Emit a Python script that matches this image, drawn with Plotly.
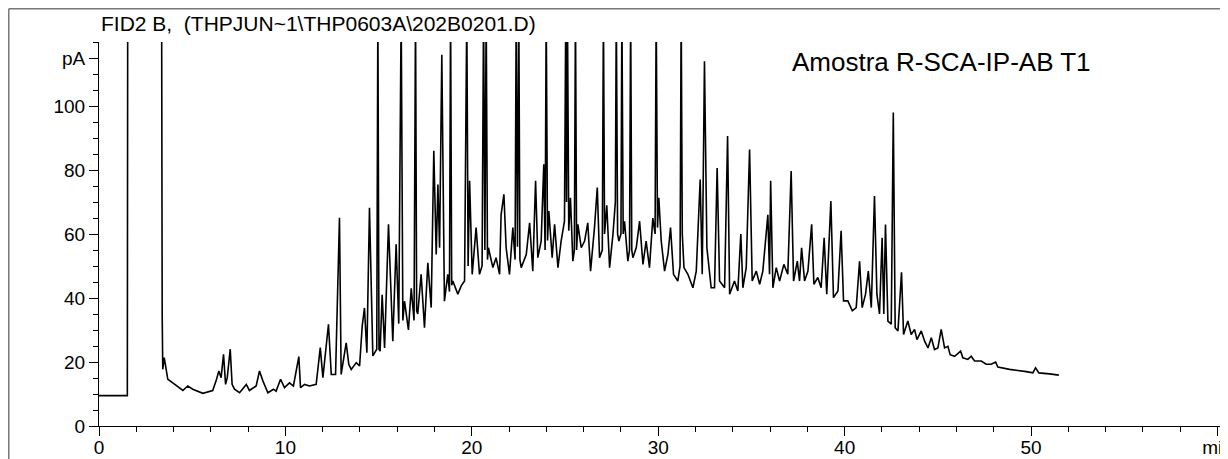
import plotly.graph_objects as go

# FID2 B signal (retention time in min, signal in pA).
# Peaks that run off the top of the chart are given 130 pA and get clipped by the axis.
rt_early = [0.0, 1.52, 1.54, 3.36, 3.39, 3.42, 3.50, 3.69, 3.96, 4.50, 4.76, 5.03, 5.57,
            6.10, 6.28, 6.43, 6.55, 6.68, 6.79, 6.88, 7.04, 7.14, 7.27, 7.54, 7.90, 8.07,
            8.43, 8.61, 8.79, 9.06, 9.36, 9.50, 9.74, 9.95, 10.22, 10.43, 10.72, 10.81,
            11.03, 11.29, 11.65, 11.87, 12.01, 12.31, 12.46, 12.69, 12.90, 12.99, 13.26,
            13.40]
pa_early = [9.5, 9.5, 130, 130, 34.9, 17.7, 21.4, 14.6, 13.5, 11.1, 12.5, 11.5, 10.2,
            11.1, 14.1, 17.2, 15.1, 22.4, 13.0, 15.1, 24.0, 13.0, 11.5, 10.4, 13.0, 11.1,
            12.5, 17.2, 14.1, 10.4, 11.5, 10.9, 14.6, 12.0, 13.5, 12.5, 21.7, 12.0,
            13.0, 12.5, 13.0, 24.5, 15.1, 31.8, 16.1, 16.1, 65.1, 16.1, 26.0,
            19.3]

rt_rise = [13.53, 13.80, 13.98, 14.12, 14.24, 14.37, 14.51, 14.69, 14.90, 14.96, 15.02,
           15.08, 15.19, 15.32, 15.53, 15.76, 15.94, 16.08, 16.21, 16.30, 16.39, 16.60,
           16.75, 16.90, 16.98, 17.04, 17.10, 17.28, 17.46, 17.64, 17.82, 17.96, 18.09,
           18.18, 18.27, 18.39, 18.53, 18.71, 18.80, 18.86, 18.92, 18.98, 19.25, 19.43,
           19.61, 19.73, 19.80, 19.88, 20.02, 20.23, 20.41, 20.55, 20.63, 20.70, 20.77,
           20.84, 20.89, 21.13, 21.30, 21.49, 21.57, 21.72, 21.84, 22.02, 22.20, 22.32,
           22.38, 22.45, 22.52, 22.58, 22.65, 22.92, 23.10, 23.27, 23.42, 23.54]
pa_rise = [17.7, 19.8, 18.8, 31.2, 36.9, 22.9, 68.2, 21.9, 24.0, 130, 24.0,
           23.4, 41.0, 24.4, 63.0, 26.5, 56.8, 32.0, 130, 33.0, 39.0, 30.0,
           43.0, 33.0, 130, 36.0, 35.0, 47.4, 30.7, 51.0, 37.0, 86.0, 53.6,
           75.5, 55.7, 116, 39.0, 47.4, 42.0, 130, 44.0, 45.3, 41.2, 43.8,
           45.3, 130, 50.0, 76.6, 47.4, 62.0, 47.4, 50.0, 130, 55.0, 130,
           52.0, 55.7, 49.5, 52.6, 47.4, 66.0, 72.4, 55.7, 47.4, 62.0, 52.0,
           130, 56.0, 130, 52.0, 49.5, 53.6, 63.5, 48.4, 76.6, 52.6]

rt_hump = [23.72, 23.86, 23.93, 23.99, 24.06, 24.13, 24.31, 24.44, 24.62, 24.79, 24.97,
           25.04, 25.08, 25.13, 25.20, 25.29, 25.42, 25.50, 25.56, 25.62, 25.69, 25.87,
           26.05, 26.22, 26.37, 26.58, 26.73, 26.85, 27.00, 27.06, 27.12, 27.24, 27.39,
           27.57, 27.70, 27.75, 27.82, 27.89, 28.00, 28.05, 28.12, 28.19, 28.37, 28.46,
           28.52, 28.58, 28.64, 28.82, 29.00, 29.18, 29.35, 29.53, 29.71, 29.83, 29.89,
           29.96, 30.03, 30.16, 30.34, 30.52, 30.66, 30.82, 31.05, 31.17, 31.23, 31.29,
           31.38, 31.59, 31.86, 32.04, 32.25, 32.36, 32.48, 32.61, 32.84, 33.02, 33.16,
           33.29, 33.56]
pa_hump = [57.8, 81.8, 55.0, 130, 58.0, 67.2, 52.6, 63.0, 49.5, 57.8, 64.0,
           130, 70.0, 130, 61.0, 71.3, 51.5, 55.0, 130, 55.0, 63.0, 55.7,
           57.8, 63.5, 48.4, 62.0, 74.5, 52.6, 55.0, 130, 60.0, 69.0, 49.5,
           59.9, 70.0, 130, 60.0, 57.8, 60.0, 130, 60.0, 64.0, 51.5, 55.0,
           130, 55.0, 52.6, 55.7, 64.0, 50.5, 57.8, 49.5, 65.0, 60.0, 130,
           62.0, 71.3, 57.8, 48.4, 53.6, 62.0, 47.4, 45.3, 50.0, 130, 60.0,
           49.5, 47.4, 43.2, 48.4, 77.0, 47.4, 114, 55.7, 43.2, 43.2, 80.6,
           45.3, 43.2]

rt_shoulder = [33.61, 33.72, 33.83, 34.09, 34.27, 34.43, 34.54, 34.72, 34.90, 35.04,
               35.26, 35.44, 35.61, 35.88, 35.97, 36.03, 36.15, 36.33, 36.51, 36.74,
               36.95, 37.13, 37.26, 37.46, 37.58, 37.69, 37.85, 38.03, 38.23, 38.35,
               38.56, 38.74, 38.90, 39.04, 39.26, 39.40, 39.64, 39.81, 39.94, 40.17,
               40.41, 40.62, 40.80, 40.94, 41.12, 41.27, 41.43, 41.60, 41.73, 41.87,
               42.01, 42.10, 42.19, 42.32, 42.50, 42.61, 42.71, 42.86, 43.05, 43.16,
               43.39, 43.57]
pa_shoulder = [55.7, 90.6, 41.2, 45.3, 42.2, 60.0, 43.2, 49.5, 86.4, 45.3,
               48.4, 44.3, 48.4, 66.0, 47.4, 76.6, 43.2, 49.5, 45.3, 50.5,
               47.4, 79.7, 45.3, 51.5, 45.3, 55.7, 45.3, 48.4, 63.0, 44.3,
               46.4, 43.2, 58.8, 41.2, 70.3, 40.1, 42.2, 61.0, 39.1, 39.1,
               36.0, 37.0, 51.5, 37.0, 41.2, 48.4, 37.0, 71.9, 41.2, 35.0,
               58.8, 35.0, 63.0, 32.8, 31.8, 98.0, 30.7, 29.7, 48.0, 28.6,
               32.8, 28.6]

rt_tail = [43.75, 43.88, 44.11, 44.29, 44.47, 44.65, 44.82, 45.00, 45.18, 45.36, 45.54,
           45.66, 45.90, 46.22, 46.34, 46.61, 46.79, 46.97, 47.33, 47.59, 47.86, 48.10,
           48.22, 48.85, 49.74, 50.10, 50.24, 50.42, 50.99, 51.49]
pa_tail = [30.2, 27.0, 29.7, 26.5, 24.4, 27.6, 23.9, 24.4, 30.2, 24.4, 24.9,
           22.3, 21.8, 23.4, 21.3, 20.8, 21.8, 20.3, 20.3, 19.3, 19.3, 20.0,
           18.4, 17.7, 17.0, 16.6, 18.2, 16.6, 16.3, 15.9]

y_tick_vals = [0, 20, 40, 60, 80, 100, 115]
y_tick_text = ["0", "20", "40", "60", "80", "100", "pA"]
x_tick_vals = [0, 10, 20, 30, 40, 50, 60]
x_tick_text = ["0", "10", "20", "30", "40", "50", "min"]

rt = rt_early + rt_rise + rt_hump + rt_shoulder + rt_tail
signal = pa_early + pa_rise + pa_hump + pa_shoulder + pa_tail

FONT = "Arial, Liberation Sans, sans-serif"

fig = go.Figure()
fig.add_trace(
    go.Scatter(
        x=rt,
        y=signal,
        mode="lines",
        line=dict(color="black", width=1.6),
        showlegend=False,
    )
)

axis_common = dict(
    showgrid=False,
    zeroline=False,
    showline=True,
    linecolor="black",
    linewidth=1,
    ticks="outside",
    tickcolor="black",
    tickwidth=1,
    tickmode="array",
    automargin=False,
    ticklabeloverflow="allow",
    tickfont=dict(family=FONT, size=19, color="black"),
)

# the page body adds an 8 px margin, so the figure is 8 px smaller than the window
fig.update_layout(
    width=1220,
    height=451,
    margin=dict(l=91, r=4, t=34, b=33),
    paper_bgcolor="white",
    plot_bgcolor="white",
    xaxis=dict(
        axis_common,
        range=[0, 60.35],
        tickvals=x_tick_vals,
        ticktext=x_tick_text,
        ticklen=9,
        ticklabelstandoff=-5,
        minor=dict(tickmode="linear", tick0=0, dtick=2, ticklen=5,
                   ticks="outside", tickcolor="black"),
    ),
    yaxis=dict(
        axis_common,
        range=[0, 120],
        tickvals=y_tick_vals,
        ticktext=y_tick_text,
        ticklen=9,
        minor=dict(tickmode="linear", tick0=0, dtick=5, ticklen=5,
                   ticks="outside", tickcolor="black"),
    ),
    annotations=[
        dict(
            text="FID2 B,  (THPJUN~1\\THP0603A\\202B0201.D)",
            xref="paper", yref="paper", x=0.0, y=1.047,
            xanchor="left", yanchor="middle", showarrow=False,
            font=dict(family=FONT, size=21, color="black"),
        ),
        dict(
            text="Amostra R-SCA-IP-AB T1",
            xref="paper", yref="paper", x=0.749, y=0.949,
            xanchor="center", yanchor="middle", showarrow=False,
            font=dict(family=FONT, size=26, color="black"),
        ),
    ],
    shapes=[
        # page frame of the printout
        dict(type="line", xref="paper", yref="paper", x0=-0.0802, x1=-0.0802,
             y0=-0.2, y1=1.0866, line=dict(color="#777777", width=1.5)),
        dict(type="line", xref="paper", yref="paper", x0=-0.0802, x1=1.0,
             y0=1.0866, y1=1.0866, line=dict(color="#777777", width=1.5)),
        dict(type="rect", xref="paper", yref="paper", x0=1.0005, x1=1.01,
             y0=-0.2, y1=1.2, fillcolor="white", line=dict(width=0)),
        dict(type="line", xref="paper", yref="paper", x0=1.0, x1=1.0,
             y0=-0.2, y1=1.0866, line=dict(color="black", width=1.5)),
    ],
)

fig.write_html("out.html")
